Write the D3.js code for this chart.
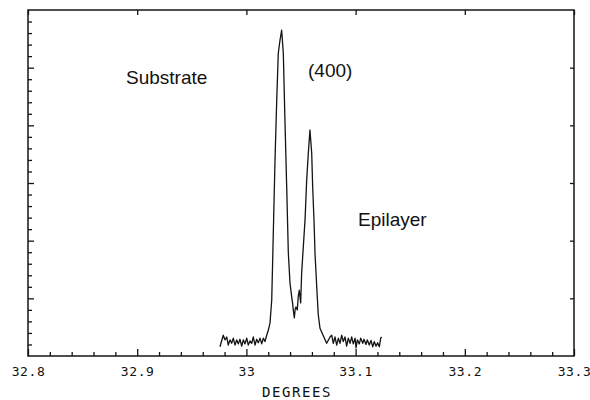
<!DOCTYPE html>
<html>
<head>
<meta charset="utf-8">
<script src="https://cdn.jsdelivr.net/npm/d3@7"></script>
<style>
  html, body { margin: 0; padding: 0; background: #fff; }
  svg { display: block; }
  .tick-label { font-family: "DejaVu Sans Mono", monospace; font-size: 13px; letter-spacing: 0.6px; fill: #111; }
  .note { font-family: "Liberation Sans", Arial, sans-serif; font-size: 19px; fill: #111; }
</style>
</head>
<body>
<svg id="chart" width="590" height="400"></svg>
<script>
(() => {
  // scan angle (degrees) and diffracted intensity (arbitrary units)
  const degrees = [
    32.9758, 32.9788, 32.9804, 32.9820, 32.9834, 32.9850, 32.9865, 32.9880, 32.9896, 32.9911,
    32.9926, 32.9941, 32.9957, 32.9972, 32.9987, 33.0003, 33.0017, 33.0033, 33.0049, 33.0063,
    33.0079, 33.0094, 33.0109, 33.0125, 33.0140, 33.0155, 33.0170, 33.0186, 33.0201, 33.0216,
    33.0232, 33.0246, 33.0262, 33.0277, 33.0292, 33.0308, 33.0323, 33.0338, 33.0353, 33.0369,
    33.0384, 33.0399, 33.0415, 33.0424, 33.0429, 33.0439, 33.0447, 33.0454, 33.0466, 33.0475,
    33.0484, 33.0497, 33.0506, 33.0521, 33.0537, 33.0552, 33.0567, 33.0582, 33.0598, 33.0607,
    33.0619, 33.0628, 33.0644, 33.0658, 33.0674, 33.0704, 33.0735, 33.0766, 33.0781, 33.0796,
    33.0811, 33.0827, 33.0842, 33.0857, 33.0873, 33.0887, 33.0903, 33.0918, 33.0933, 33.0949,
    33.0964, 33.0979, 33.0995, 33.1004, 33.1016, 33.1034, 33.1047, 33.1065, 33.1077, 33.1095,
    33.1107, 33.1125, 33.1141, 33.1157, 33.1171, 33.1187, 33.1202, 33.1217, 33.1230, 33.1239
  ];
  const intensity = [
    16, 36, 28, 33, 19, 28, 22, 31, 19, 28,
    21, 29, 17, 28, 21, 31, 19, 26, 22, 33,
    19, 29, 23, 31, 21, 31, 25, 36, 45, 57,
    97, 210, 340, 439, 525, 548, 565, 525, 409, 293,
    179, 127, 102, 90, 80, 66, 82, 85, 80, 104,
    114, 92, 144, 189, 236, 305, 352, 392, 352, 293,
    236, 179, 120, 72, 48, 35, 22, 33, 36, 22,
    33, 19, 31, 22, 36, 25, 33, 17, 31, 22,
    33, 21, 31, 14, 28, 21, 31, 22, 29, 20,
    28, 19, 27, 16, 25, 17, 23, 16, 31, 33
  ];

  const xTicks = [32.8, 32.9, 33, 33.1, 33.2, 33.3];
  const xTickLabels = ["32.8", "32.9", "33", "33.1", "33.2", "33.3"];
  const xMinor = [32.82, 32.84, 32.86, 32.88, 32.92, 32.94, 32.96, 32.98, 33.02, 33.04, 33.06, 33.08,
                  33.12, 33.14, 33.16, 33.18, 33.22, 33.24, 33.26, 33.28];
  const yTicks = [100, 200, 300, 400, 500];
  const yMinor = [20, 40, 60, 80, 120, 140, 160, 180, 220, 240, 260, 280, 320, 340, 360, 380,
                  420, 440, 460, 480, 520, 540, 560, 580];

  const data = degrees.map((d, i) => ({ deg: d, val: intensity[i] }));

  const ink = "#141414";
  const svg = d3.select("#chart");
  const left = 28, right = 574, top = 10, bottom = 356;

  const x = d3.scaleLinear().domain([32.8, 33.3]).range([left, right]);
  const y = d3.scaleLinear().domain([0, 600]).range([bottom, top]);

  // inward ticks on all four sides
  const axisStyle = (g) => {
    g.select(".domain").remove();
    g.selectAll("line").attr("stroke", ink).attr("stroke-width", 1.3);
  };

  svg.append("g")
    .attr("transform", `translate(0,${bottom})`)
    .call(d3.axisBottom(x).tickValues(xMinor).tickSize(-4).tickFormat(""))
    .call(axisStyle);

  const bx = svg.append("g")
    .attr("transform", `translate(0,${bottom})`)
    .call(d3.axisBottom(x).tickValues(xTicks).tickSize(-7).tickPadding(11)
      .tickFormat((d, i) => xTickLabels[i]))
    .call(axisStyle);
  bx.selectAll("text").attr("class", "tick-label").attr("fill", null);

  svg.append("g")
    .attr("transform", `translate(0,${top})`)
    .call(d3.axisTop(x).tickValues(xTicks).tickSize(-5).tickFormat(""))
    .call(axisStyle);

  svg.append("g")
    .attr("transform", `translate(${left},0)`)
    .call(d3.axisLeft(y).tickValues(yMinor).tickSize(-4).tickFormat(""))
    .call(axisStyle);

  svg.append("g")
    .attr("transform", `translate(${left},0)`)
    .call(d3.axisLeft(y).tickValues(yTicks).tickSize(-6).tickFormat(""))
    .call(axisStyle);

  svg.append("g")
    .attr("transform", `translate(${right},0)`)
    .call(d3.axisRight(y).tickValues(yTicks).tickSize(-4).tickFormat(""))
    .call(axisStyle);

  svg.append("rect")
    .attr("x", left).attr("y", top)
    .attr("width", right - left).attr("height", bottom - top)
    .attr("fill", "none").attr("stroke", ink).attr("stroke-width", 1.5);

  const line = d3.line()
    .x((d) => x(d.deg))
    .y((d) => y(d.val));

  svg.append("path")
    .datum(data)
    .attr("fill", "none")
    .attr("stroke", ink)
    .attr("stroke-width", 1.3)
    .attr("stroke-linejoin", "round")
    .attr("d", line);

  svg.append("text").attr("class", "note").attr("x", 126).attr("y", 84).text("Substrate");
  svg.append("text").attr("class", "note").attr("x", 308).attr("y", 77).text("(400)");
  svg.append("text").attr("class", "note").attr("x", 358).attr("y", 226).text("Epilayer");

  svg.append("text")
    .attr("class", "tick-label")
    .attr("x", 297).attr("y", 397)
    .attr("text-anchor", "middle")
    .style("font-size", "14px")
    .style("letter-spacing", "1.6px")
    .text("DEGREES");
})();
</script>
</body>
</html>
